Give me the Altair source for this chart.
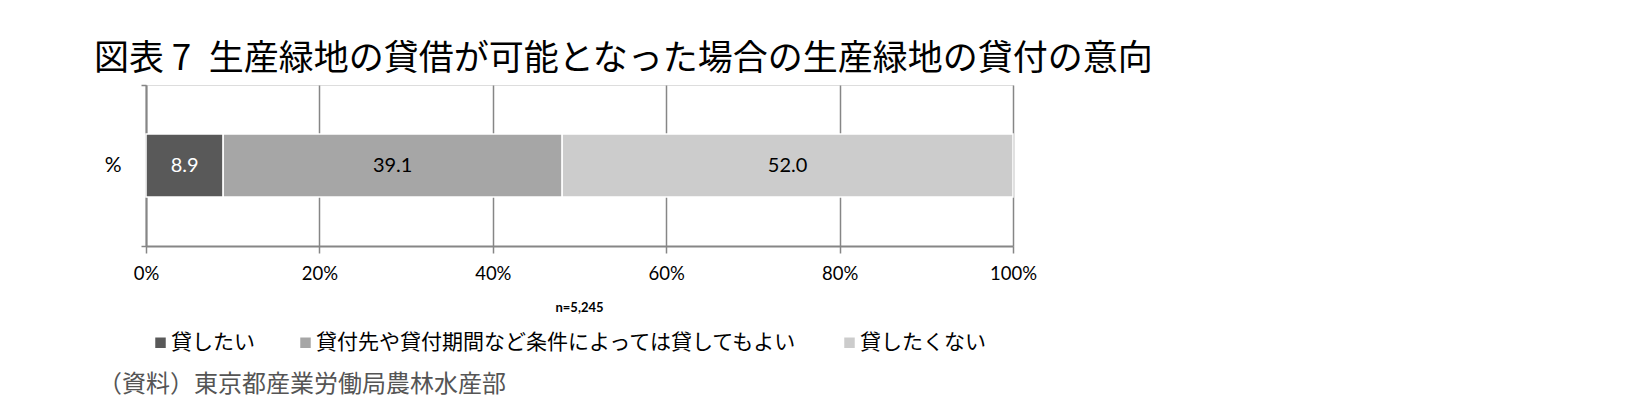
import altair as alt
import pandas as pd

categories = ["貸したい", "貸付先や貸付期間など条件によっては貸してもよい", "貸したくない"]
values = [8.9, 39.1, 52.0]
order = [0, 1, 2]
row_label = "%"
colors = ["#595959", "#a6a6a6", "#cccccc"]
x_ticks = [0, 20, 40, 60, 80, 100]

title_text = "図表 7\u2002生産緑地の貸借が可能となった場合の生産緑地の貸付の意向"
note_text = "n=5,245"
source_text = "（資料）東京都産業労働局農林水産部"

df = pd.DataFrame({"row": [row_label] * 3, "cat": categories, "value": values, "order": order})

W, H = 867, 161
GRAY = "#868686"
NUM_FONT = "Lato"
JP_FONT = "Noto Sans CJK JP"

base = alt.Chart(df)

bars = base.mark_bar(size=63, stroke="white", strokeWidth=1.5).encode(
    x=alt.X("value:Q", stack="zero",
            scale=alt.Scale(domain=[0, 100], nice=False),
            axis=alt.Axis(values=x_ticks, title=None, labelExpr="datum.value + '%'",
                          grid=True, gridColor=GRAY, gridWidth=1.5,
                          domainColor=GRAY, domainWidth=2,
                          tickColor=GRAY, tickWidth=1.5, tickSize=7,
                          labelFont=NUM_FONT, labelFontSize=18.5, labelColor="black",
                          labelFlush=False, labelPadding=11)),
    y=alt.Y("row:N", title=None,
            scale=alt.Scale(paddingInner=0, paddingOuter=0),
            axis=alt.Axis(tickBand="extent", tickSize=5, tickColor=GRAY, tickWidth=1.5,
                          domainColor=GRAY, domainWidth=2, grid=False,
                          labelFont=NUM_FONT, labelFontSize=21, labelColor="black",
                          labelPadding=20, labelAngle=0)),
    color=alt.Color("cat:N", sort=categories,
                    scale=alt.Scale(domain=categories, range=colors),
                    legend=alt.Legend(title=None, orient="none", legendX=4, legendY=247,
                                      direction="horizontal", symbolType="square",
                                      symbolSize=110, symbolStrokeWidth=0,
                                      labelFont=JP_FONT, labelFontSize=21,
                                      labelColor="black", labelOffset=0,
                                      columnPadding=40, labelLimit=800)),
    order=alt.Order("order:Q"),
)

labels = base.transform_stack(
    stack="value", groupby=["row"], as_=["x0", "x1"], sort=[alt.SortField("order")]
).transform_calculate(
    mid="(datum.x0 + datum.x1) / 2",
    lbl="format(datum.value, '.1f')",
).mark_text(font=NUM_FONT, fontSize=20).encode(
    x=alt.X("mid:Q"),
    y=alt.Y("row:N"),
    text="lbl:N",
    color=alt.condition(alt.datum.order == 0, alt.value("white"), alt.value("black")),
)

note = alt.Chart(pd.DataFrame({"t": [note_text]})).mark_text(
    font=NUM_FONT, fontSize=13, fontWeight="bold", align="center", baseline="middle"
).encode(x=alt.value(W / 2), y=alt.value(223), text="t:N")

source = alt.Chart(pd.DataFrame({"t": [source_text]})).mark_text(
    font=JP_FONT, fontSize=24, align="left", baseline="middle", color="#555555"
).encode(x=alt.value(-48), y=alt.value(300), text="t:N")

chart = alt.layer(bars, labels, note, source).properties(
    width=W, height=H,
    title=alt.TitleParams(title_text, anchor="start", frame="group", dx=-52, dy=4, offset=1,
                          font=JP_FONT, fontSize=35, fontWeight="normal", color="black"),
    autosize=alt.AutoSizeParams(type="none"),
    padding={"left": 138, "top": 77, "right": 600, "bottom": 154},
).configure_view(stroke=None).configure(background="white")

chart.save("out.html", embed_options={"renderer": "svg", "actions": False})
